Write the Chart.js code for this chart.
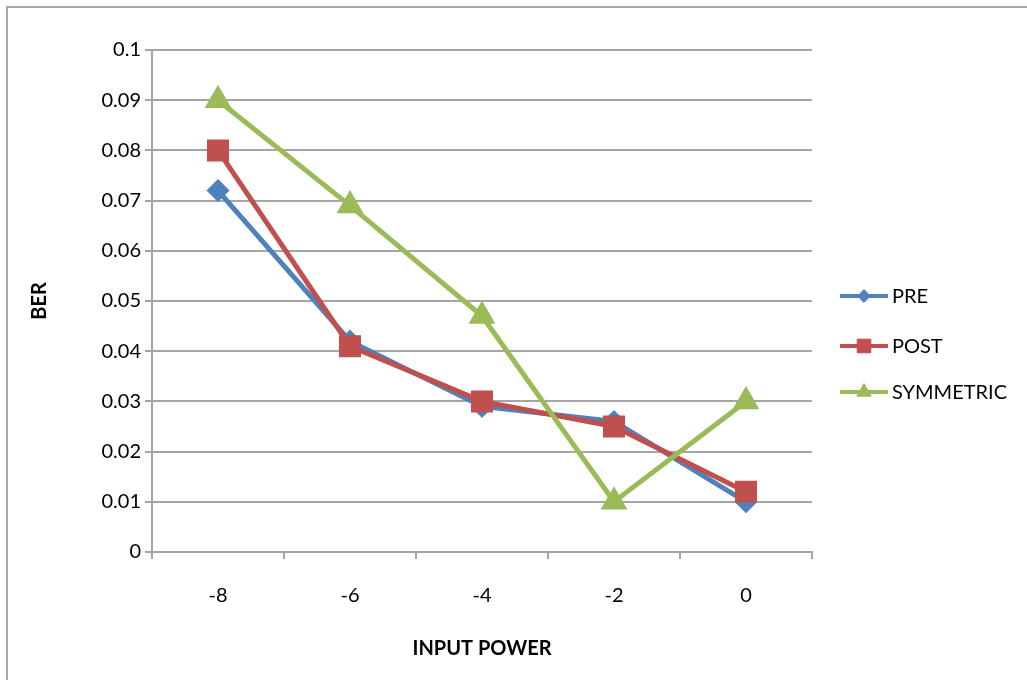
<!DOCTYPE html>
<html>
<head>
<meta charset="utf-8">
<script src="https://cdn.jsdelivr.net/npm/chart.js@4"></script>
<style>
  html, body { margin: 0; padding: 0; background: #fff; }
  #wrap { position: relative; width: 1027px; height: 680px; overflow: hidden; }
  #frame { position: absolute; left: 6px; top: 6px; width: 1100px; height: 760px;
           border-left: 2px solid #a8a8a8; border-top: 2px solid #a8a8a8; }
  canvas { position: absolute; left: 0; top: 0; }
</style>
</head>
<body>
<div id="wrap">
  <div id="frame"></div>
  <canvas id="myChart" width="1027" height="680"></canvas>
</div>
<script>
(function () {
    // data
    const inputPower = ['-8', '-6', '-4', '-2', '0'];
    const pre       = [0.072, 0.042, 0.029, 0.026, 0.010];
    const post      = [0.080, 0.041, 0.030, 0.025, 0.012];
    const symmetric = [0.090, 0.069, 0.047, 0.010, 0.030];
    const yTicks    = { min: 0, max: 0.1, step: 0.01 };

    const font = 'Lato';
    const gridColor = '#a5a5a5';

    // legend with line + marker, like the spreadsheet one
    const sideLegend = {
        id: 'sideLegend',
        afterDraw(chart) {
            const ctx = chart.ctx;
            const x0 = chart.chartArea.right + 28;
            const rows = [296, 346, 392];
            chart.data.datasets.forEach((ds, i) => {
                const y = rows[i];
                ctx.save();
                ctx.strokeStyle = ds.borderColor;
                ctx.lineWidth = 4;
                ctx.beginPath();
                ctx.moveTo(x0, y);
                ctx.lineTo(x0 + 48, y);
                ctx.stroke();
                ctx.fillStyle = ds.backgroundColor;
                ctx.strokeStyle = ds.borderColor;
                ctx.lineWidth = 1;
                Chart.helpers.drawPoint(ctx, {
                    pointStyle: ds.pointStyle,
                    radius: ds.pointRadius * 0.8,
                    rotation: 0,
                    borderWidth: 1
                }, x0 + 24, y);
                ctx.fillStyle = '#000';
                ctx.font = '20px ' + font;
                ctx.textBaseline = 'middle';
                ctx.textAlign = 'left';
                ctx.fillText(ds.label, x0 + 52, y + 1);
                ctx.restore();
            });
        }
    };

    const ctx = document.getElementById('myChart');

    new Chart(ctx, {
        type: 'line',
        data: {
            labels: inputPower,
            datasets: [{
                label: 'PRE',
                data: pre,
                borderColor: '#4f81bd',
                backgroundColor: '#4f81bd',
                borderWidth: 5,
                pointStyle: 'rectRot',
                pointRadius: 8,
                order: 3,
                tension: 0
              },{
                label: 'POST',
                data: post,
                borderColor: '#c0504d',
                backgroundColor: '#c0504d',
                borderWidth: 5,
                pointStyle: 'rect',
                pointRadius: 12,
                order: 2,
                tension: 0
              },{
                label: 'SYMMETRIC',
                data: symmetric,
                borderColor: '#9bbb59',
                backgroundColor: '#9bbb59',
                borderWidth: 5,
                pointStyle: 'triangle',
                pointRadius: 10.5,
                order: 1,
                tension: 0
              }]
        },
        options: {
            responsive: false,
            animation: false,
            devicePixelRatio: 1,
            layout: { padding: { left: 0, top: 50, right: 215, bottom: 0 } },
            plugins: {
                legend: { display: false },
                tooltip: { enabled: false }
            },
            scales: {
                x: {
                    offset: true,
                    grid: {
                        offset: true,
                        drawOnChartArea: false,
                        color: gridColor,
                        lineWidth: 2,
                        tickLength: 7
                    },
                    border: { color: gridColor, width: 2 },
                    ticks: {
                        color: '#000',
                        font: { family: font, size: 20 },
                        padding: 25,
                        maxRotation: 0
                    },
                    title: {
                        display: true,
                        text: 'INPUT POWER',
                        color: '#000',
                        font: { family: font, size: 20, weight: 'bold' },
                        padding: { top: 0, bottom: 19 }
                    },
                    afterFit(scale) { scale.height = 128; }
                },
                y: {
                    min: yTicks.min,
                    max: yTicks.max,
                    grid: {
                        color: gridColor,
                        lineWidth: 2,
                        tickLength: 7
                    },
                    border: { color: gridColor, width: 2 },
                    ticks: {
                        stepSize: yTicks.step,
                        color: '#000',
                        font: { family: font, size: 20 },
                        padding: 4,
                        callback: v => String(+v.toFixed(2))
                    },
                    title: {
                        display: true,
                        text: 'BER',
                        color: '#000',
                        font: { family: font, size: 20, weight: 'bold' },
                        padding: { top: 28, bottom: 0 }
                    },
                    afterFit(scale) { scale.width = 152; }
                }
            }
        },
        plugins: [sideLegend]
    });
})();
</script>
</body>
</html>
